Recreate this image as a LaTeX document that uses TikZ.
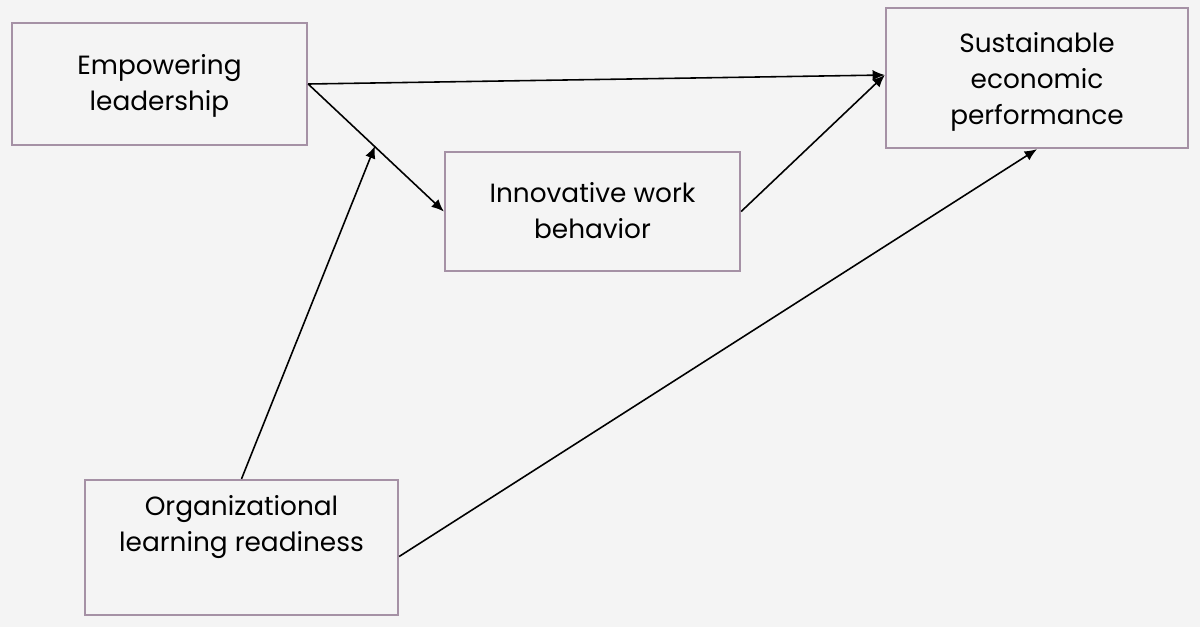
\documentclass[tikz,border=0pt]{standalone}
\usepackage{fontspec}
\setmainfont{Poppins}
\usetikzlibrary{arrows.meta}
\definecolor{bg}{RGB}{244,244,244}
\definecolor{bd}{RGB}{165,145,165}
\begin{document}
\begin{tikzpicture}[x=0.02cm,y=-0.02cm,
  box/.style={draw=bd,line width=1.3pt,fill=bg,inner sep=0pt},
  lbl/.style={align=center,font=\fontsize{15}{20.5}\selectfont,text=black},
  conn/.style={line width=0.9pt,-{Latex[length=7pt,width=6pt]}}]
\fill[bg] (0,0) rectangle (1200,627);
\node[box,minimum width=295*0.02cm,minimum height=122*0.02cm] (emp) at (159.5,84) {};
\node[lbl] (empt) at (159.5,86) {Empowering\\leadership};
\node[box,minimum width=295*0.02cm,minimum height=119*0.02cm] (inno) at (592.5,211.5) {};
\node[lbl] (innot) at (592.5,211) {Innovative work\\behavior};
\node[box,minimum width=302*0.02cm,minimum height=140*0.02cm] (sus) at (1037,78) {};
\node[lbl] (sust) at (1037,82) {Sustainable\\economic\\performance};
\node[box,minimum width=313*0.02cm,minimum height=135*0.02cm] (org) at (241.5,547.5) {};
\node[lbl] (orgt) at (241.5,527) {Organizational\\learning readiness};
\coordinate (mid) at (375,146);
\draw[conn] (emp.east) -- ([yshift=0.06cm]sus.west);
\draw[conn] (emp.east) -- (inno.west);
\draw[conn] (inno.east) -- ([yshift=0.06cm]sus.west);
\draw[conn] (org.north) -- (mid);
\draw[conn] ([yshift=-0.18cm]org.east) -- (sus.south);
\end{tikzpicture}
\end{document}
